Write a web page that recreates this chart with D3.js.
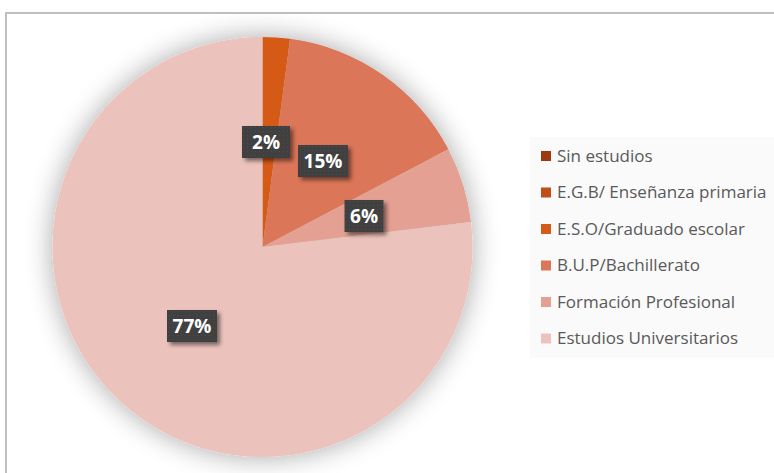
<!DOCTYPE html>
<html><head><meta charset="utf-8">
<script src="https://cdn.jsdelivr.net/npm/d3@7"></script>
<style>html,body{margin:0;padding:0;background:#fff;}svg{display:block;}</style>
</head><body>
<script>
const categories = ["Sin estudios","E.G.B/ Enseñanza primaria","E.S.O/Graduado escolar","B.U.P/Bachillerato","Formación Profesional","Estudios Universitarios"];
const values = [0, 0, 2.1, 15.2, 5.8, 76.9];
const labels = ["", "", "2%", "15%", "6%", "77%"];
const colors = ["#9C3A10","#C04E18","#D45A17","#DB7659","#E4A193","#ECC3BC"];

const W=774,H=473;
const svg=d3.select("body").append("svg").attr("width",W).attr("height",H);
const defs=svg.append("defs");
const glow=defs.append("filter").attr("id","glow").attr("x","-30%").attr("y","-30%").attr("width","160%").attr("height","160%");
glow.append("feGaussianBlur").attr("in","SourceAlpha").attr("stdDeviation",14).attr("result","b");
glow.append("feOffset").attr("in","b").attr("dx",0).attr("dy",0).attr("result","o");
glow.append("feComponentTransfer").attr("in","o").attr("result","s").append("feFuncA").attr("type","linear").attr("slope",0.35);
const m1=glow.append("feMerge"); m1.append("feMergeNode").attr("in","s"); m1.append("feMergeNode").attr("in","SourceGraphic");

const sh=defs.append("filter").attr("id","lsh").attr("x","-30%").attr("y","-30%").attr("width","170%").attr("height","170%");
sh.append("feGaussianBlur").attr("in","SourceAlpha").attr("stdDeviation",2).attr("result","b");
sh.append("feOffset").attr("in","b").attr("dx",3).attr("dy",3).attr("result","o");
sh.append("feComponentTransfer").attr("in","o").attr("result","s").append("feFuncA").attr("type","linear").attr("slope",0.5);
const m2=sh.append("feMerge"); m2.append("feMergeNode").attr("in","s"); m2.append("feMergeNode").attr("in","SourceGraphic");

const pat=defs.append("pattern").attr("id","dots").attr("width",4).attr("height",4).attr("patternUnits","userSpaceOnUse");
pat.append("rect").attr("width",4).attr("height",4).attr("fill","#404040");
pat.append("rect").attr("x",1).attr("y",1).attr("width",1).attr("height",1).attr("fill","#4d4d4d");

// chart border
svg.append("rect").attr("x",6).attr("y",13).attr("width",W).attr("height",H).attr("fill","#fff").attr("stroke","#BFBFBF").attr("stroke-width",2);

const cx=262.5, cy=247, R=210;
const pie=d3.pie().sort(null).value(d=>d)(values);
const arc=d3.arc().innerRadius(0).outerRadius(R);
const g=svg.append("g").attr("transform",`translate(${cx},${cy})`);
const slices=g.append("g").attr("filter","url(#glow)");
slices.selectAll("path").data(pie).join("path").attr("d",arc).attr("fill",(d,i)=>colors[i]);

// labels
const lblPos=[null,null,[266,142],[323,161],[364,216],[192,326]];
const lg=svg.append("g");
pie.forEach((d,i)=>{
  if(!labels[i]) return;
  let [x,y]=arc.centroid(d);
  x+=cx; y+=cy;
  if(lblPos[i]){x=lblPos[i][0];y=lblPos[i][1];}
  const t=lg.append("g").attr("transform",`translate(${x},${y})`);
  const w=labels[i].length>2?50:(i===4?39:48);
  t.append("rect").attr("x",-w/2).attr("y",-16).attr("width",w).attr("height",32).attr("fill","url(#dots)").attr("filter","url(#lsh)");
  t.append("text").attr("text-anchor","middle").attr("dy","0.36em").attr("fill","#fff")
   .attr("font-family","'Open Sans', 'Noto Sans', sans-serif").attr("font-weight","bold").attr("font-size",19).text(labels[i]);
});

// legend
svg.append("rect").attr("x",530).attr("y",137).attr("width",244).attr("height",221).attr("fill","#FAFAFA");
const leg=svg.append("g");
categories.forEach((c,i)=>{
  const y=156+i*36.5;
  leg.append("rect").attr("x",541).attr("y",y-5).attr("width",10).attr("height",10).attr("fill",colors[i]);
  leg.append("text").attr("x",557).attr("y",y).attr("dy","0.35em").attr("fill","#595959")
   .attr("font-family","'Open Sans', 'Noto Sans', sans-serif").attr("font-size",17).text(c);
});
</script>
</body></html>
